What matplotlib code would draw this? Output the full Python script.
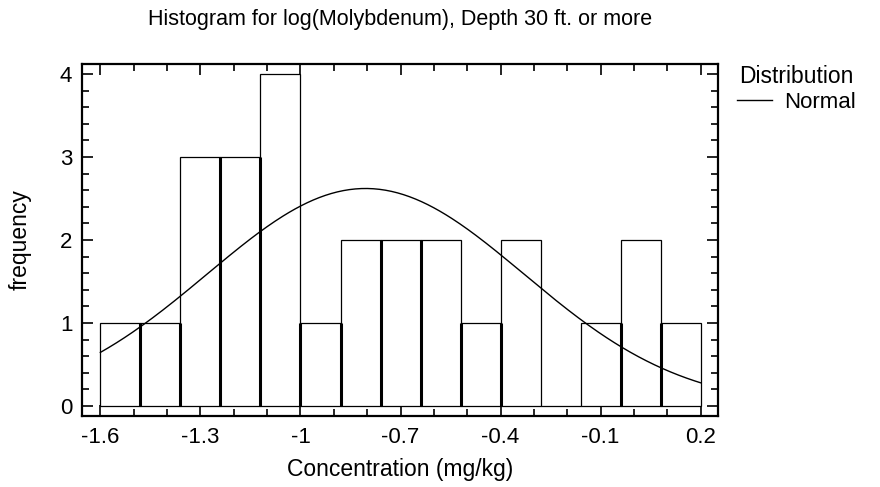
import numpy as np
import matplotlib.pyplot as plt
from matplotlib.ticker import MultipleLocator

plt.rcParams['font.family'] = ['Liberation Sans', 'DejaVu Sans']

# histogram data
bin_start = -1.6
bin_width = 0.12
counts = [1, 1, 3, 3, 4, 1, 2, 2, 2, 1, 2, 0, 1, 2, 1]

# fitted normal distribution
fit_mean = -0.805
fit_sd = 0.475

xticks = [-1.6, -1.3, -1.0, -0.7, -0.4, -0.1, 0.2]
xtick_labels = ["-1.6", "-1.3", "-1", "-0.7", "-0.4", "-0.1", "0.2"]
yticks = [0, 1, 2, 3, 4]

edges = bin_start + bin_width * np.arange(len(counts) + 1)
n_total = sum(counts)

fig = plt.figure(figsize=(8.8, 4.87), dpi=100)
ax = fig.add_axes([0.0932, 0.1458, 0.7228, 0.7228])

ax.bar(edges[:-1], counts, width=bin_width, align="edge",
       facecolor="white", edgecolor="black", linewidth=0.9, zorder=2)

# shared bar edges look heavier in the original
for i in range(1, len(counts)):
    top = min(counts[i - 1], counts[i])
    if top > 0:
        ax.vlines(edges[i], 0, top, color="black", linewidth=2.2, zorder=3)

xs = np.linspace(edges[0], edges[-1], 300)
pdf = np.exp(-0.5 * ((xs - fit_mean) / fit_sd) ** 2) / (fit_sd * np.sqrt(2 * np.pi))
ax.plot(xs, n_total * bin_width * pdf, color="black", linewidth=1.0,
        label="Normal", zorder=4)

ax.set_xlim(-1.655, 0.252)
ax.set_ylim(-0.12, 4.12)
ax.set_xticks(xticks)
ax.set_xticklabels(xtick_labels)
ax.set_yticks(yticks)
ax.xaxis.set_minor_locator(MultipleLocator(0.1))
ax.yaxis.set_minor_locator(MultipleLocator(0.2))
ax.tick_params(which="both", direction="in", top=True, right=True,
               width=1.2, labelsize=16)
ax.tick_params(which="major", length=8)
ax.tick_params(axis="x", which="major", pad=8)
ax.tick_params(axis="y", which="major", pad=7)
ax.tick_params(which="minor", length=5)
for sp in ax.spines.values():
    sp.set_linewidth(1.6)

ax.set_title("Histogram for log(Molybdenum), Depth 30 ft. or more",
             fontsize=15.5, pad=28)
ax.set_xlabel("Concentration (mg/kg)", fontsize=16.5, labelpad=7)
ax.set_ylabel("frequency", fontsize=16.5, labelpad=20)

leg = ax.legend(title="Distribution", loc="upper left",
                bbox_to_anchor=(1.015, 1.023), frameon=False,
                fontsize=16, title_fontsize=16.5, handlelength=1.6,
                handletextpad=0.55, borderaxespad=0, labelspacing=0.2)

fig.savefig("out.png", dpi=100)
